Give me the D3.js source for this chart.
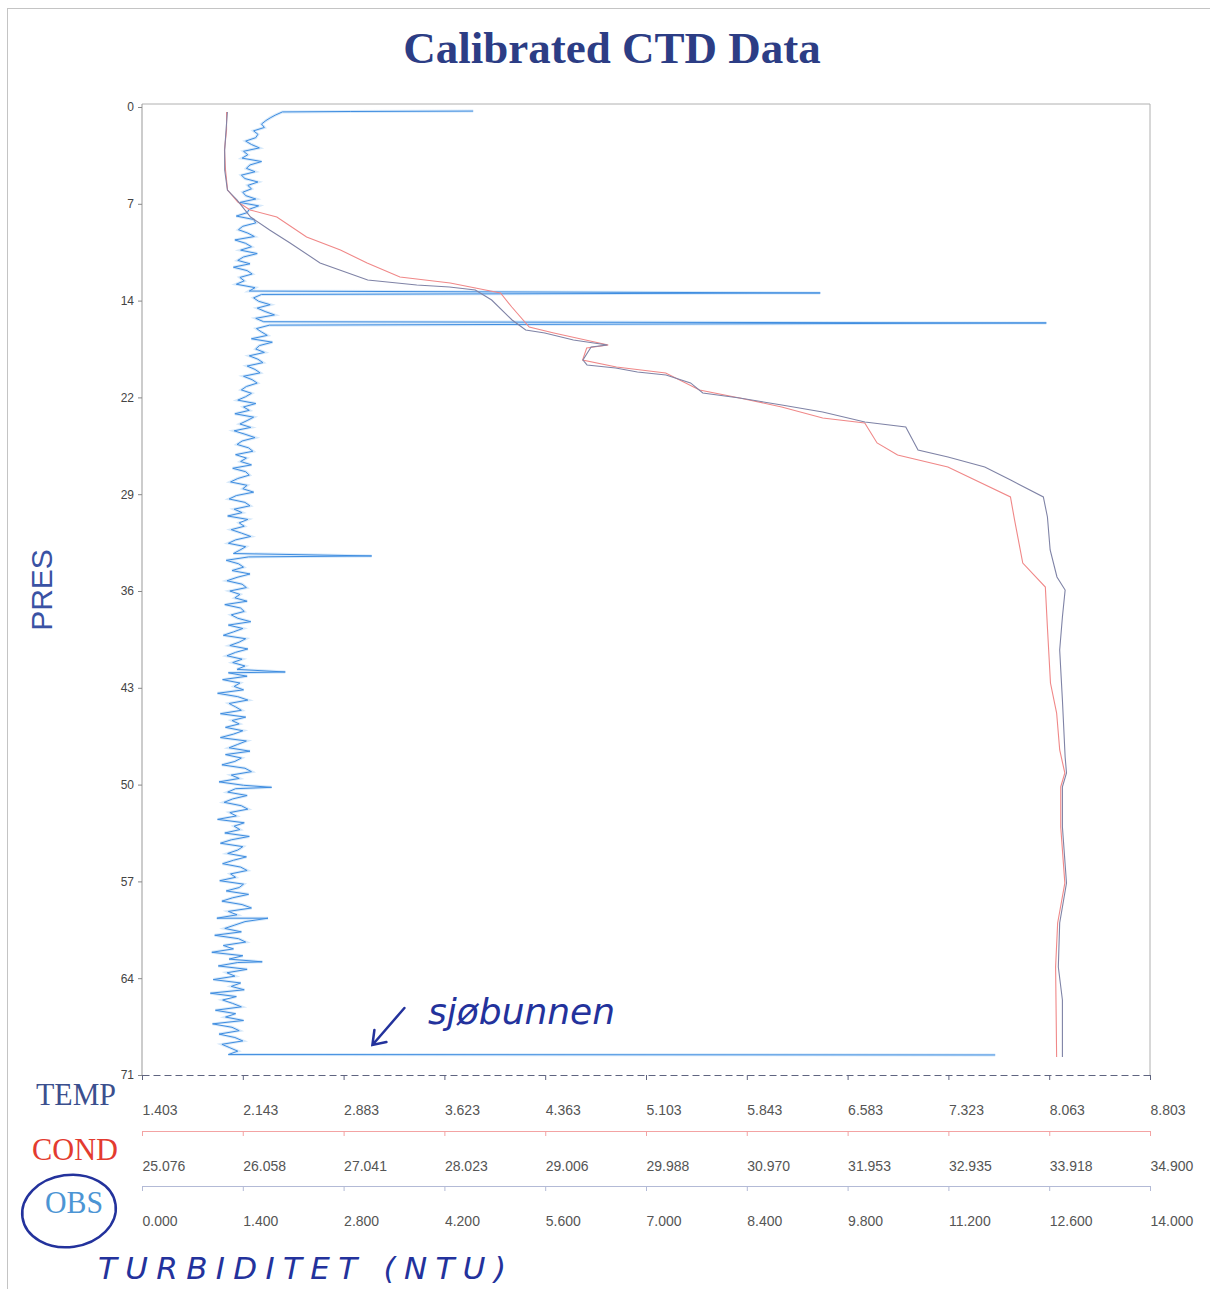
<!DOCTYPE html>
<html>
<head>
<meta charset="utf-8">
<script src="https://cdn.jsdelivr.net/npm/d3@7"></script>
<style>
  body { margin: 0; background: #fff; }
</style>
</head>
<body>
<div class="chart"></div>
<script>
// pressure axis (dbar) - ticks every 71/10, labels as printed
var presTicks = [0, 7.1, 14.2, 21.3, 28.4, 35.5, 42.6, 49.7, 56.8, 63.9, 71];
var presLabels = ['0', '7', '14', '22', '29', '36', '43', '50', '57', '64', '71'];

var tempTicks = [1.403, 2.143, 2.883, 3.623, 4.363, 5.103, 5.843, 6.583, 7.323, 8.063, 8.803];
var condTicks = [25.076, 26.058, 27.041, 28.023, 29.006, 29.988, 30.970, 31.953, 32.935, 33.918, 34.900];
var obsTicks = [0, 1.4, 2.8, 4.2, 5.6, 7.0, 8.4, 9.8, 11.2, 12.6, 14.0];

// [pres, temp]
var tempProfile = [
  [0.37, 2.03], [1.69, 2.02], [3.15, 2.01], [4.62, 2.01], [6.09, 2.03], [6.82, 2.10],
  [8.07, 2.20], [9.02, 2.34], [9.97, 2.49], [11.44, 2.71], [12.69, 3.06], [13.06, 3.42],
  [13.20, 3.66], [13.42, 3.85], [14.16, 3.97], [15.62, 4.12], [16.36, 4.22], [16.58, 4.36],
  [17.09, 4.57], [17.46, 4.82], [17.60, 4.70], [18.56, 4.64], [18.92, 4.67], [19.14, 4.88],
  [19.44, 5.04], [19.66, 5.25], [20.24, 5.43], [20.98, 5.52], [21.34, 5.79], [21.86, 6.10],
  [22.37, 6.40], [23.10, 6.71], [23.47, 7.01], [25.16, 7.10], [25.67, 7.32], [26.40, 7.59],
  [27.36, 7.78], [28.60, 8.02], [30.07, 8.05], [32.49, 8.07], [34.47, 8.12], [35.43, 8.18],
  [37.41, 8.16], [39.83, 8.14], [43.49, 8.16], [47.67, 8.18], [48.85, 8.19], [49.87, 8.16],
  [52.81, 8.16], [56.92, 8.19], [59.85, 8.14], [63.08, 8.13], [65.50, 8.16], [69.68, 8.16]
];

// [pres, cond]
var condProfile = [
  [0.37, 25.90], [1.69, 25.90], [3.15, 25.88], [4.62, 25.89], [6.09, 25.91], [6.97, 26.01],
  [7.55, 26.13], [8.07, 26.39], [9.54, 26.68], [10.49, 27.01], [11.44, 27.27], [12.47, 27.59],
  [12.91, 28.08], [13.64, 28.57], [14.67, 28.68], [16.14, 28.85], [16.58, 29.09], [17.46, 29.62],
  [17.68, 29.41], [18.56, 29.37], [19.07, 29.70], [19.51, 30.18], [20.76, 30.51], [21.34, 30.90],
  [22.00, 31.31], [22.81, 31.71], [23.18, 32.12], [24.64, 32.24], [25.52, 32.44], [26.40, 32.93],
  [28.60, 33.54], [30.29, 33.58], [33.45, 33.66], [35.21, 33.88], [38.14, 33.90], [42.25, 33.93],
  [44.45, 33.99], [47.16, 34.02], [48.85, 34.07], [49.87, 34.03], [52.81, 34.03], [56.92, 34.07],
  [59.85, 34.00], [63.08, 33.98], [69.68, 33.99]
];

// turbidity: surface part, 0.25 dbar samples from 1.0 dbar, and single-sample spikes
var obsSurface = [[0.30, 4.60], [0.33, 2.90], [0.36, 1.95], [0.60, 1.85], [0.80, 1.78]];
var obsStart = 1.0;
var obsStep = 0.25;
var obsNoise = [
  1.72, 1.66, 1.70, 1.55, 1.61, 1.58, 1.44, 1.52, 1.63, 1.41, 1.47, 1.39, 1.66, 1.50, 1.45, 1.57, 1.38, 1.43, 1.61, 1.47,
  1.52, 1.40, 1.44, 1.58, 1.36, 1.62, 1.49, 1.46, 1.31, 1.55, 1.58, 1.40, 1.34, 1.47, 1.56, 1.29, 1.44, 1.52, 1.37, 1.60,
  1.41, 1.33, 1.50, 1.27, 1.46, 1.53, 1.36, 1.42, 1.31, 1.57, 1.49, 1.66, 1.55, 1.62, 1.78, 1.60, 1.71, 1.84, 1.58, 1.69,
  1.77, 1.59, 1.66, 1.74, 1.52, 1.81, 1.63, 1.58, 1.70, 1.49, 1.61, 1.68, 1.46, 1.57, 1.64, 1.41, 1.53, 1.60, 1.45, 1.38,
  1.52, 1.44, 1.33, 1.58, 1.41, 1.49, 1.29, 1.55, 1.46, 1.36, 1.51, 1.28, 1.43, 1.57, 1.39, 1.32, 1.48, 1.54, 1.30, 1.45,
  1.37, 1.52, 1.26, 1.44, 1.49, 1.33, 1.23, 1.46, 1.40, 1.55, 1.31, 1.21, 1.43, 1.50, 1.28, 1.39, 1.19, 1.47, 1.35, 1.42,
  1.24, 1.38, 1.51, 1.30, 1.20, 1.44, 1.36, 1.27, 1.48, 1.17, 1.34, 1.41, 1.25, 1.50, 1.32, 1.18, 1.39, 1.45, 1.22, 1.36,
  1.29, 1.46, 1.15, 1.37, 1.42, 1.24, 1.33, 1.51, 1.20, 1.40, 1.27, 1.13, 1.44, 1.35, 1.22, 1.47, 1.30, 1.18, 1.39, 1.26,
  1.43, 1.32, 1.20, 1.46, 1.12, 1.36, 1.28, 1.41, 1.05, 1.33, 1.47, 1.21, 1.30, 1.38, 1.09, 1.44, 1.25, 1.35, 1.16, 1.40,
  1.27, 1.09, 1.45, 1.33, 1.21, 1.50, 1.16, 1.38, 1.29, 1.11, 1.43, 1.52, 1.24, 1.35, 1.07, 1.41, 1.30, 1.19, 1.46, 1.26,
  1.14, 1.38, 1.47, 1.22, 1.31, 1.05, 1.42, 1.28, 1.36, 1.15, 1.49, 1.24, 1.09, 1.40, 1.33, 1.19, 1.45, 1.27, 1.12, 1.37,
  1.46, 1.23, 1.30, 1.08, 1.41, 1.35, 1.17, 1.48, 1.26, 1.11, 1.39, 1.52, 1.20, 1.32, 1.04, 1.43, 1.29, 1.15, 1.38, 1.01,
  1.34, 1.44, 1.13, 1.27, 0.97, 1.40, 1.21, 1.33, 1.06, 1.46, 1.18, 1.29, 0.99, 1.37, 1.24, 1.42, 0.95, 1.31, 1.12, 1.26,
  1.38, 1.02, 1.30, 1.16, 1.41, 0.98, 1.25, 1.35, 1.07, 1.29, 1.40, 1.11, 1.22, 1.33, 1.20
];
var obsSpikes = [
  [13.64, 9.42], [15.84, 12.56], [32.93, 3.19], [41.44, 1.99],
  [49.90, 1.80], [59.50, 1.75], [62.70, 1.67], [69.53, 11.85]
];

var obsProfile = obsSurface
  .concat(obsNoise.map(function(v, i) { return [obsStart + i * obsStep, v]; }))
  .concat(obsSpikes)
  .sort(function(a, b) { return a[0] - b[0]; });

var W = 1210, H = 1289;
var plotLeft = 142, plotRight = 1150, plotTop = 107, plotBottom = 1075;

var svg = d3.select('.chart').append('svg')
  .attr('width', W)
  .attr('height', H)
  .style('display', 'block');

// scanned page border
svg.append('rect')
  .attr('x', 7.5).attr('y', 8.5)
  .attr('width', W).attr('height', H)
  .attr('fill', 'none')
  .attr('stroke', '#c4c4c4');

var y = d3.scaleLinear().domain([0, 71]).range([plotTop, plotBottom]);
var xTemp = d3.scaleLinear().domain([tempTicks[0], tempTicks[10]]).range([plotLeft, plotRight]);
var xCond = d3.scaleLinear().domain([condTicks[0], condTicks[10]]).range([plotLeft, plotRight]);
var xObs = d3.scaleLinear().domain([obsTicks[0], obsTicks[10]]).range([plotLeft, plotRight]);

svg.append('text')
  .attr('x', 612).attr('y', 63)
  .attr('text-anchor', 'middle')
  .attr('font-family', '"Liberation Serif", "Times New Roman", serif')
  .attr('font-weight', 'bold')
  .attr('font-size', 45)
  .attr('fill', '#2c3d85')
  .text('Calibrated CTD Data');

// plot frame (top + right)
svg.append('path')
  .attr('d', 'M' + plotLeft + ',' + (plotTop - 3) + 'H' + plotRight + 'V' + plotBottom)
  .attr('fill', 'none')
  .attr('stroke', '#b0b0b0');

var yAxis = d3.axisLeft(y)
  .tickValues(presTicks)
  .tickFormat(function(d, i) { return presLabels[i]; })
  .tickSize(4)
  .tickPadding(4)
  .tickSizeOuter(0);

svg.append('g')
  .attr('transform', 'translate(' + plotLeft + ',0)')
  .call(yAxis)
  .attr('font-family', '"Liberation Sans", Arial, sans-serif')
  .attr('font-size', 12)
  .call(function(g) {
    g.select('.domain').attr('stroke', '#999').attr('d', 'M0,' + (plotTop - 3) + 'V' + plotBottom);
    g.selectAll('.tick line').attr('stroke', '#888');
    g.selectAll('.tick text').attr('fill', '#444');
  });

svg.append('text')
  .attr('transform', 'translate(52,590) rotate(-90)')
  .attr('text-anchor', 'middle')
  .attr('font-family', '"Liberation Sans", Arial, sans-serif')
  .attr('font-size', 30)
  .attr('fill', '#3a52a4')
  .text('PRES');

function bottomAxis(scale, ticks, yPos, lineColor, dashed) {
  var axis = d3.axisBottom(scale)
    .tickValues(ticks)
    .tickFormat(d3.format('.3f'))
    .tickSize(5)
    .tickPadding(25)
    .tickSizeOuter(0);
  var g = svg.append('g')
    .attr('transform', 'translate(0,' + yPos + ')')
    .call(axis)
    .attr('font-family', '"Liberation Sans", Arial, sans-serif')
    .attr('font-size', 14);
  g.select('.domain').attr('stroke', lineColor).attr('stroke-dasharray', dashed ? '7,4' : null);
  g.selectAll('.tick line').attr('stroke', lineColor);
  g.selectAll('.tick text').attr('text-anchor', 'start').attr('x', 0).attr('fill', '#555');
  return g;
}

bottomAxis(xTemp, tempTicks, plotBottom, '#5f6480', true);
bottomAxis(xCond, condTicks, 1131, '#f3a3a3', false);
bottomAxis(xObs, obsTicks, 1186, '#b3bad6', false);

var seriesLabels = [
  { text: 'TEMP', y: 1105, color: '#3b4f8e', x: 36, w: 80 },
  { text: 'COND', y: 1160, color: '#e33b30', x: 32, w: 86 },
  { text: 'OBS', y: 1213, color: '#4c95d4', x: 45, w: 58 }
];
svg.selectAll('.series-label')
  .data(seriesLabels)
  .enter().append('text')
  .attr('class', 'series-label')
  .attr('x', function(d) { return d.x; })
  .attr('y', function(d) { return d.y; })
  .attr('font-family', '"Liberation Serif", "Times New Roman", serif')
  .attr('font-size', 31)
  .attr('textLength', function(d) { return d.w; })
  .attr('lengthAdjust', 'spacingAndGlyphs')
  .attr('fill', function(d) { return d.color; })
  .text(function(d) { return d.text; });

var plot = svg.append('g');

function profileLine(xs) {
  return d3.line()
    .x(function(d) { return xs(d[1]); })
    .y(function(d) { return y(d[0]); });
}

// turbidity, with a soft halo like the scan
plot.append('path')
  .datum(obsProfile)
  .attr('d', profileLine(xObs))
  .attr('fill', 'none')
  .attr('stroke', '#a6cff5')
  .attr('stroke-width', 3)
  .attr('stroke-opacity', 0.45);
plot.append('path')
  .datum(obsProfile)
  .attr('d', profileLine(xObs))
  .attr('fill', 'none')
  .attr('stroke', '#3f8de0')
  .attr('stroke-width', 1);

plot.append('path')
  .datum(condProfile)
  .attr('d', profileLine(xCond))
  .attr('fill', 'none')
  .attr('stroke', '#f08888')
  .attr('stroke-width', 1.1);

plot.append('path')
  .datum(tempProfile)
  .attr('d', profileLine(xTemp))
  .attr('fill', 'none')
  .attr('stroke', '#7f83a6')
  .attr('stroke-width', 1.1);

// handwritten notes
var ink = '#23329c';
var hand = '"DejaVu Sans", sans-serif';

var tipX = xObs(3.2), tipY = y(68.8);
svg.append('path')
  .attr('d', 'M' + (tipX + 32) + ',' + (tipY - 37) + 'L' + tipX + ',' + tipY +
             'M' + (tipX + 2) + ',' + (tipY - 15) + 'L' + tipX + ',' + tipY + 'L' + (tipX + 14) + ',' + (tipY - 3))
  .attr('fill', 'none')
  .attr('stroke', ink)
  .attr('stroke-width', 2.5)
  .attr('stroke-linecap', 'round');

svg.append('text')
  .attr('x', 428).attr('y', 1024)
  .attr('font-family', hand)
  .attr('font-style', 'italic')
  .attr('font-size', 36)
  .attr('fill', ink)
  .text('sjøbunnen');

svg.append('ellipse')
  .attr('cx', 69).attr('cy', 1211)
  .attr('rx', 47).attr('ry', 36)
  .attr('transform', 'rotate(-8,69,1211)')
  .attr('fill', 'none')
  .attr('stroke', ink)
  .attr('stroke-width', 2.5);

svg.append('text')
  .attr('x', 98).attr('y', 1279)
  .attr('font-family', hand)
  .attr('font-style', 'italic')
  .attr('font-size', 31)
  .attr('textLength', 408)
  .attr('lengthAdjust', 'spacing')
  .attr('fill', ink)
  .text('TURBIDITET (NTU)');
</script>
</body>
</html>
